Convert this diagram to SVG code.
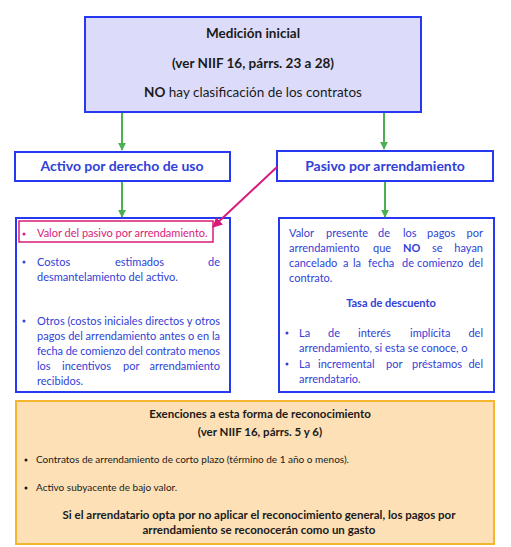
<svg xmlns="http://www.w3.org/2000/svg" width="511" height="547" viewBox="0 0 511 547">
<defs>
<style>
.t{font-family:Lato,"Noto Sans","DejaVu Sans",sans-serif}
.box{fill:#fff;stroke:#2638f0;stroke-width:2}
.b{font-weight:bold}
.blue{fill:#3141d6}
.dark{fill:#1a1a1a}
.mag{fill:#d81b7a}
.g{stroke:#4caf50;stroke-width:2;fill:none}
.e{text-anchor:end}
</style>
<marker id="ga" viewBox="0 0 10 10" refX="9" refY="5" markerWidth="4" markerHeight="4" orient="auto" markerUnits="strokeWidth"><path d="M0,0 L10,5 L0,10 z" fill="#4caf50"/></marker>
<marker id="ma" viewBox="0 0 10 10" refX="9" refY="5" markerWidth="5" markerHeight="5" orient="auto" markerUnits="strokeWidth"><path d="M0,0 L10,5 L0,10 z" fill="#d81b7a"/></marker>
</defs>
<rect width="511" height="547" fill="#fff"/>

<g id="medicion">
<rect x="85" y="17" width="336" height="95" fill="#dcdcfa" stroke="#2638f0" stroke-width="2"/>
<text class="t b dark" x="253" y="38" font-size="13.5" text-anchor="middle">Medición inicial</text>
<text class="t b dark" x="253" y="68" font-size="13.5" text-anchor="middle">(ver NIIF 16, párrs. 23 a 28)</text>
<text class="t dark" x="253" y="97" font-size="13.5" text-anchor="middle"><tspan class="b">NO</tspan> hay clasificación de los contratos</text>
</g>

<g id="activo">
<rect class="box" x="15" y="152" width="215" height="29"/>
<text class="t b blue" x="122" y="171" font-size="14" text-anchor="middle">Activo por derecho de uso</text>
</g>

<g id="pasivo">
<rect class="box" x="277" y="151" width="216" height="30"/>
<text class="t b blue" x="385" y="171" font-size="14" text-anchor="middle">Pasivo por arrendamiento</text>
</g>

<g id="activo-detalle">
<rect class="box" x="16" y="218" width="214" height="174"/>
<rect x="19" y="221" width="194" height="21" fill="none" stroke="#d81b7a" stroke-width="1.5"/>
<circle cx="24" cy="234" r="1.5" fill="#d81b7a"/>
<text class="t mag" x="37" y="237" font-size="11">Valor del pasivo por arrendamiento.</text>
<g class="t blue" font-size="11">
<circle cx="24" cy="262" r="1.5" fill="#3141d6"/>
<text x="37" y="266">Costos</text><text x="115" y="266">estimados</text><text class="e" x="220" y="266">de</text>
<text x="37" y="281">desmantelamiento del activo.</text>
<circle cx="24" cy="321" r="1.5" fill="#3141d6"/>
<text x="37" y="325" textLength="183" lengthAdjust="spacing">Otros (costos iniciales directos y otros</text>
<text x="37" y="340" textLength="183" lengthAdjust="spacing">pagos del arrendamiento antes o en la</text>
<text x="37" y="355" textLength="183" lengthAdjust="spacing">fecha de comienzo del contrato menos</text>
<text x="37" y="370">los</text><text x="62" y="370">incentivos</text><text x="123" y="370">por</text><text class="e" x="220" y="370">arrendamiento</text>
<text x="37" y="385">recibidos.</text>
</g>
</g>

<g id="pasivo-detalle">
<rect class="box" x="279" y="218" width="215" height="174"/>
<g class="t blue" font-size="11">
<text x="289" y="237">Valor</text><text x="326" y="237">presente</text><text x="378" y="237">de</text><text x="403" y="237">los</text><text x="427" y="237">pagos</text><text class="e" x="483" y="237">por</text>
<text x="289" y="252">arrendamiento</text><text x="373" y="252">que</text><text class="b" x="403" y="252">NO</text><text x="432" y="252">se</text><text class="e" x="483" y="252">hayan</text>
<text x="289" y="267">cancelado</text><text x="343" y="267">a</text><text x="353" y="267">la</text><text x="368" y="267">fecha</text><text x="402" y="267">de</text><text x="417" y="267">comienzo</text><text class="e" x="483" y="267">del</text>
<text x="289" y="282">contrato.</text>
<text class="b" x="391" y="307" text-anchor="middle">Tasa de descuento</text>
<circle cx="287" cy="333" r="1.5" fill="#3141d6"/>
<text x="299" y="337">La</text><text x="328" y="337">de</text><text x="358" y="337">interés</text><text x="410" y="337">implícita</text><text class="e" x="483" y="337">del</text>
<text x="299" y="352">arrendamiento, si esta se conoce, o</text>
<circle cx="287" cy="364" r="1.5" fill="#3141d6"/>
<text x="299" y="368">La</text><text x="318" y="368">incremental</text><text x="386" y="368">por</text><text x="412" y="368">préstamos</text><text class="e" x="483" y="368">del</text>
<text x="299" y="383">arrendatario.</text>
</g>
</g>

<g id="exenciones">
<rect x="16" y="401" width="478" height="143" fill="#fde0b6" stroke="#f5b530" stroke-width="2"/>
<g class="t dark">
<text class="b" x="260" y="418" font-size="11.5" text-anchor="middle">Exenciones a esta forma de reconocimiento</text>
<text class="b" x="260" y="436" font-size="11.5" text-anchor="middle">(ver NIIF 16, párrs. 5 y 6)</text>
<circle cx="26" cy="460" r="1.5" fill="#1a1a1a"/>
<text x="36" y="463" font-size="10">Contratos de arrendamiento de corto plazo (término de 1 año o menos).</text>
<circle cx="26" cy="488" r="1.5" fill="#1a1a1a"/>
<text x="36" y="491" font-size="10">Activo subyacente de bajo valor.</text>
<text class="b" x="259" y="519" font-size="11.5" text-anchor="middle">Si el arrendatario opta por no aplicar el reconocimiento general, los pagos por</text>
<text class="b" x="259" y="534" font-size="11.5" text-anchor="middle">arrendamiento se reconocerán como un gasto</text>
</g>
</g>

<g id="connectors">
<line class="g" x1="122" y1="113" x2="122" y2="150" marker-end="url(#ga)"/>
<line class="g" x1="384" y1="113" x2="384" y2="149" marker-end="url(#ga)"/>
<line class="g" x1="122" y1="182" x2="122" y2="217" marker-end="url(#ga)"/>
<line class="g" x1="385" y1="182" x2="385" y2="217" marker-end="url(#ga)"/>
<line x1="277" y1="167" x2="213" y2="227" stroke="#d81b7a" stroke-width="2" marker-end="url(#ma)"/>
</g>
</svg>
